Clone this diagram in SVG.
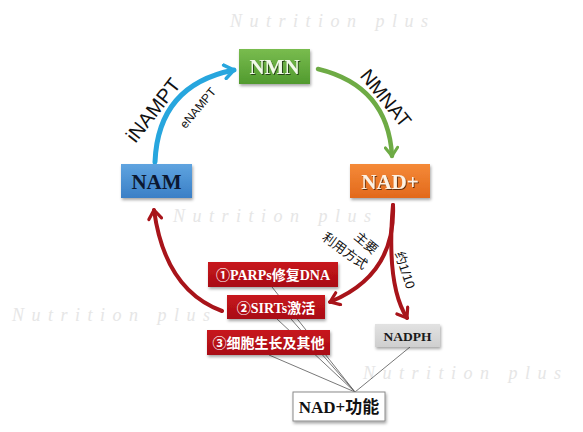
<svg xmlns="http://www.w3.org/2000/svg" width="583" height="432" viewBox="0 0 583 432">
<defs>
<style>
.wm{font-family:"Liberation Serif",serif;font-style:italic;font-size:18px;letter-spacing:7.5px;fill:#e6e6e6}
.nt{font-family:"Liberation Serif","Noto Sans CJK SC",serif;font-weight:bold;text-anchor:middle;dominant-baseline:central}
.lb{font-family:"Liberation Sans","Noto Sans CJK SC",sans-serif;fill:#111;text-anchor:middle;dominant-baseline:central}
.red rect{fill:url(#gRed)}
.red text{fill:#fff;font-size:14px}
.ln{stroke:#555;stroke-width:0.8;fill:none}
</style>
<linearGradient id="gGreen" x1="0" y1="0" x2="0" y2="1"><stop offset="0" stop-color="#79bc4f"/><stop offset="1" stop-color="#519a2e"/></linearGradient>
<linearGradient id="gBlue" x1="0" y1="0" x2="0" y2="1"><stop offset="0" stop-color="#5fa4e0"/><stop offset="1" stop-color="#3a7fc6"/></linearGradient>
<linearGradient id="gOrange" x1="0" y1="0" x2="0" y2="1"><stop offset="0" stop-color="#f58a38"/><stop offset="1" stop-color="#e2691c"/></linearGradient>
<linearGradient id="gRed" x1="0" y1="0" x2="0" y2="1"><stop offset="0" stop-color="#c8141c"/><stop offset="1" stop-color="#a80f16"/></linearGradient>
<linearGradient id="gGray" x1="0" y1="0" x2="0" y2="1"><stop offset="0" stop-color="#e2e2e2"/><stop offset="1" stop-color="#cfcfcf"/></linearGradient>
<filter id="sh" x="-20%" y="-20%" width="140%" height="150%"><feDropShadow dx="1" dy="2" stdDeviation="1.5" flood-color="#000" flood-opacity="0.35"/></filter>
<filter id="ts" x="-10%" y="-20%" width="120%" height="140%"><feDropShadow dx="1" dy="1" stdDeviation="0.6" flood-color="#000" flood-opacity="0.6"/></filter>
<marker id="mBlue" viewBox="0 0 10 10" refX="8" refY="5" markerWidth="3.4" markerHeight="3.4" orient="auto" markerUnits="strokeWidth"><path d="M2.5,1 L8,5 L2.5,9" fill="none" stroke="#27a6de" stroke-width="2" stroke-linecap="round" stroke-linejoin="round"/></marker>
<marker id="mGreen" viewBox="0 0 10 10" refX="8" refY="5" markerWidth="3.4" markerHeight="3.4" orient="auto" markerUnits="strokeWidth"><path d="M2.5,1 L8,5 L2.5,9" fill="none" stroke="#6eab45" stroke-width="2" stroke-linecap="round" stroke-linejoin="round"/></marker>
<marker id="mRed" viewBox="0 0 10 10" refX="8" refY="5" markerWidth="4" markerHeight="4" orient="auto" markerUnits="strokeWidth"><path d="M2.5,1 L8,5 L2.5,9" fill="none" stroke="#a8141a" stroke-width="2" stroke-linecap="round" stroke-linejoin="round"/></marker>
</defs>
<rect width="583" height="432" fill="#fff"/>
<g id="watermarks">
<text class="wm" x="230" y="27">Nutrition plus</text>
<text class="wm" x="173" y="222">Nutrition plus</text>
<text class="wm" x="12" y="321">Nutrition plus</text>
<text class="wm" x="363" y="379">Nutrition plus</text>
</g>
<g id="connectors">
<path d="M272,287 L355,392 M277,319 L355,392 M291,319 L355,392 M269,355 L355,392 M410,347 L355,392" class="ln"/>
<path d="M155,162 Q158,85 234,70" fill="none" stroke="#27a6de" stroke-width="5" stroke-linecap="round" marker-end="url(#mBlue)"/>
<path d="M318,69 Q388,86 392,156" fill="none" stroke="#6eab45" stroke-width="4.5" stroke-linecap="round" marker-end="url(#mGreen)"/>
<path d="M222,311 Q165,290 154,210" fill="none" stroke="#a8141a" stroke-width="4" stroke-linecap="round" marker-end="url(#mRed)"/>
<path d="M393,205 Q396,275 330,302" fill="none" stroke="#a8141a" stroke-width="4" stroke-linecap="round" marker-end="url(#mRed)"/>
<path d="M393,205 Q386,285 407,318" fill="none" stroke="#a8141a" stroke-width="4" stroke-linecap="round" marker-end="url(#mRed)"/>
<text class="lb" font-size="20" transform="translate(153,110) rotate(-52)">iNAMPT</text>
<text class="lb" font-size="12" transform="translate(198,108) rotate(-50)">eNAMPT</text>
<text class="lb" font-size="19.5" transform="translate(386,98) rotate(51)">NMNAT</text>
<text class="lb" font-size="13" transform="translate(366,243) rotate(40)">主要</text>
<text class="lb" font-size="13" transform="translate(345,251) rotate(36)">利用方式</text>
<text class="lb" font-size="13" transform="translate(405,270) rotate(72)">约1/10</text>
</g>
<g id="NMN">
<rect x="239" y="49" width="71" height="35" fill="url(#gGreen)" filter="url(#sh)"/>
<text class="nt" x="274.5" y="67" font-size="21" fill="#f2f9ea" filter="url(#ts)">NMN</text>
</g>
<g id="NAM">
<rect x="121" y="164" width="71" height="34" fill="url(#gBlue)" filter="url(#sh)"/>
<text class="nt" x="156.5" y="182" font-size="21" fill="#0c1830">NAM</text>
</g>
<g id="NADplus">
<rect x="350" y="164" width="80" height="34" fill="url(#gOrange)" filter="url(#sh)"/>
<text class="nt" x="390" y="182" font-size="21" fill="#fdf2e4" filter="url(#ts)">NAD+</text>
</g>
<g id="PARPs" class="red">
<rect x="208" y="262" width="130" height="25" filter="url(#sh)"/>
<text class="nt" x="273" y="275">①PARPs修复DNA</text>
</g>
<g id="SIRTs" class="red">
<rect x="227" y="295" width="98" height="24" filter="url(#sh)"/>
<text class="nt" x="276" y="308">②SIRTs激活</text>
</g>
<g id="growth" class="red">
<rect x="207" y="330" width="123" height="25" filter="url(#sh)"/>
<text class="nt" x="268.5" y="343">③细胞生长及其他</text>
</g>
<g id="NADPH">
<rect x="375" y="324" width="65" height="23" fill="url(#gGray)" filter="url(#sh)"/>
<text class="nt" x="407.5" y="336" font-size="13.5" fill="#1a1a1a">NADPH</text>
</g>
<g id="NADfunc">
<rect x="293" y="392" width="92" height="29" fill="#fff" stroke="#8a8a8a" stroke-width="1" filter="url(#sh)"/>
<text class="nt" x="339" y="407" font-size="17" fill="#111">NAD+功能</text>
</g>
</svg>
